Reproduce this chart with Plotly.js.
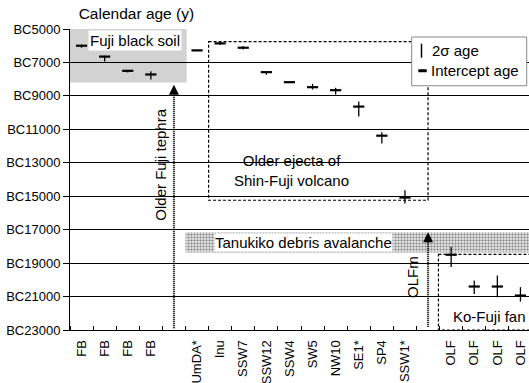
<!DOCTYPE html>
<html><head><meta charset="utf-8">
<script src="https://cdn.plot.ly/plotly-3.0.1.min.js"></script>
<style>html,body{margin:0;padding:0;background:#fff}#c{width:529px;height:383px}</style>
</head><body><div id="c"></div>
<script>
// Categories along x (empty slots are gaps)
const categories = ["FB","FB","FB","FB","","UmDA*","Inu","SSW7","SSW12","SSW4","SW5","NW10","SE1*","SP4","SSW1*","","OLF","OLF","OLF","OLF"];
// Index of each dated sample within categories
const sampleIdx   = [0,1,2,3,5,6,7,8,9,10,11,12,13,14,16,17,18,19];
// Intercept calendar age (years BC)
const interceptBC = [6000,6650,7500,7720,6280,5860,6120,7580,8180,8480,8660,9640,11380,15080,18500,20400,20400,20940];
// 2-sigma range (years BC), young and old ends
const sigmaYoung  = [5940,6600,7460,7520,6240,5760,6020,7560,8150,8280,8520,9340,11180,14640,18040,20040,19740,20440];
const sigmaOld    = [6120,6950,7600,8020,6320,5960,6220,7740,8210,8620,8920,10240,11840,15440,19240,20840,21040,21300];
// Y tick values (years BC)
const yTicks = [5000,7000,9000,11000,13000,15000,17000,19000,21000,23000];
// Interpreted units (years BC)
const blackSoil = {x:[-0.5,4.55], y:[5000,8200]};
const ejectaBox = {x:[5.5,15], y:[5760,15240]};
const koFujiBox = {x:[15.45,19.8], y:[18480,23000]};
const tanukiko  = {x:[4.5,19.8], y:[17160,18360]};

const errPlus  = interceptBC.map((v,i)=>sigmaOld[i]-v);
const errMinus = interceptBC.map((v,i)=>v-sigmaYoung[i]);
const boundaries = categories.map((c,i)=>i-0.5).concat([categories.length-0.5]);

const F = "Liberation Sans, Arial, sans-serif";
// pixel -> paper helpers for the legend box
const PL = 70, PW = 459, PT = 29.3, PH = 300.7;
const px = v => (v-PL)/PW;
const py = v => 1-(v-PT)/PH;

const traces = [
  {
    type:'scatter', mode:'lines', showlegend:false, hoverinfo:'skip',
    x:[tanukiko.x[0],tanukiko.x[1],tanukiko.x[1],tanukiko.x[0],tanukiko.x[0]],
    y:[tanukiko.y[0],tanukiko.y[0],tanukiko.y[1],tanukiko.y[1],tanukiko.y[0]],
    fill:'toself', line:{width:0},
    fillpattern:{shape:'.', fgcolor:'#808080', bgcolor:'#e4e4e4', size:3, solidity:0.4}
  },
  {
    type:'scatter', mode:'markers', showlegend:false,
    x:sampleIdx, y:interceptBC,
    marker:{symbol:'line-ew-open', size:8, color:'#000', line:{width:2.2, color:'#000'}},
    error_y:{type:'data', symmetric:false, array:errPlus, arrayminus:errMinus, width:0, thickness:1.3, color:'#000'}
  }
];

const layout = {
  width:529, height:383,
  margin:{l:70, r:0, t:29, b:53},
  paper_bgcolor:'#fff', plot_bgcolor:'rgba(0,0,0,0)',
  font:{family:F, color:'#000', size:13},
  title:{text:'Calendar age (y)', x:10/529, xanchor:'left', xref:'paper', y:1-14/383, yref:'container', yanchor:'middle', font:{size:15.5, family:F}},
  xaxis:{
    range:[-0.5, -0.5+459/23.1], showgrid:false, zeroline:false,
    tickmode:'array', tickvals:categories.map((c,i)=>i), ticktext:categories,
    tickangle:-90, ticks:'', ticklabelstandoff:4,
    showline:true, linecolor:'#000', linewidth:1,
    tickfont:{size:13, family:F},
    minor:{tickvals:boundaries, ticks:'inside', ticklen:4, tickcolor:'#000', showgrid:false}
  },
  yaxis:{
    range:[23000,5000], tickmode:'array', tickvals:yTicks, ticktext:yTicks.map(v=>'BC'+v),
    ticks:'outside', ticklen:6, tickcolor:'#000',
    showgrid:true, gridcolor:'#000', gridwidth:1, zeroline:false,
    showline:true, linecolor:'#000', linewidth:1,
    tickfont:{size:13, family:F}
  },
  shapes:[
    {type:'rect', xref:'x', yref:'y', x0:blackSoil.x[0], x1:blackSoil.x[1], y0:blackSoil.y[0], y1:blackSoil.y[1], fillcolor:'#d2d2d2', line:{width:0}, layer:'below'},
    {type:'rect', xref:'x', yref:'y', x0:ejectaBox.x[0], x1:ejectaBox.x[1], y0:ejectaBox.y[0], y1:ejectaBox.y[1], line:{color:'#000', width:1.2, dash:'3px,2px'}},
    {type:'rect', xref:'x', yref:'y', x0:koFujiBox.x[0], x1:koFujiBox.x[1], y0:koFujiBox.y[0], y1:koFujiBox.y[1], line:{color:'#000', width:1.2, dash:'3px,2px'}},
    {type:'line', xref:'x', yref:'y', x0:4, x1:4, y0:22900, y1:8700, line:{color:'#000', width:2.2, dash:'1px,1px'}},
    {type:'line', xref:'x', yref:'y', x0:15, x1:15, y0:22800, y1:17500, line:{color:'#000', width:2.2, dash:'1px,1px'}},
    // legend box
    {type:'rect', xref:'paper', yref:'paper', x0:px(411.7), x1:px(526.7), y0:py(37.3), y1:py(86), fillcolor:'#fff', line:{color:'#888', width:1}},
    {type:'line', xref:'paper', yref:'paper', x0:px(421.5), x1:px(421.5), y0:py(44), y1:py(58), line:{color:'#000', width:1.5}},
    {type:'line', xref:'paper', yref:'paper', x0:px(418.3), x1:px(426.7), y0:py(71), y1:py(71), line:{color:'#000', width:3}}
  ],
  annotations:[
    {x:4, y:8340, ax:4, ay:8900, axref:'x', ayref:'y', xref:'x', yref:'y', text:'', showarrow:true, arrowhead:2, arrowsize:1, arrowwidth:2, arrowcolor:'#000'},
    {x:15, y:17160, ax:15, ay:17700, axref:'x', ayref:'y', xref:'x', yref:'y', text:'', showarrow:true, arrowhead:2, arrowsize:1, arrowwidth:2, arrowcolor:'#000'},
    {x:2.3, y:5680, xref:'x', yref:'y', text:'Fuji black soil', showarrow:false, bgcolor:'#fff', font:{size:15, color:'#000'}, borderpad:1},
    {x:3.42, y:13140, xref:'x', yref:'y', text:'Older Fuji tephra', textangle:-90, showarrow:false, font:{size:15, color:'#000'}},
    {x:9.1, y:13480, xref:'x', yref:'y', text:'Older ejecta of<br>Shin-Fuji volcano', showarrow:false, font:{size:15, color:'#000'}},
    {x:9.6, y:17760, xref:'x', yref:'y', text:'Tanukiko debris avalanche', showarrow:false, bgcolor:'#fff', font:{size:15, color:'#000'}, borderpad:0},
    {x:14.35, y:19830, xref:'x', yref:'y', text:'OLFm', textangle:-90, showarrow:false, font:{size:15, color:'#000'}},
    {x:17.65, y:22200, xref:'x', yref:'y', text:'Ko-Fuji fan', showarrow:false, font:{size:15, color:'#000'}},
    {x:px(429.5), y:py(50.5), xref:'paper', yref:'paper', xanchor:'left', yanchor:'middle', showarrow:false, text:'2σ age', font:{size:15, color:'#000'}},
    {x:px(428.5), y:py(71), xref:'paper', yref:'paper', xanchor:'left', yanchor:'middle', showarrow:false, text:'Intercept age', font:{size:15, color:'#000'}}
  ]
};

Plotly.newPlot('c', traces, layout, {staticPlot:true, displayModeBar:false});
</script>
</body></html>
